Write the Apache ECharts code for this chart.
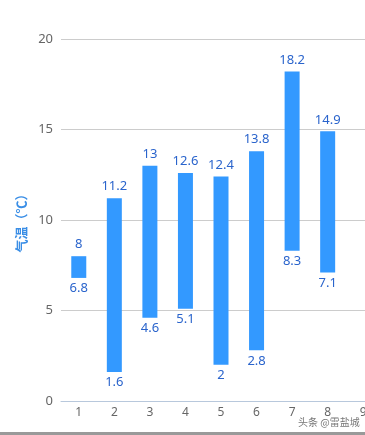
<!DOCTYPE html>
<html><head><meta charset="utf-8">
<script src="https://cdn.jsdelivr.net/npm/echarts@6/dist/echarts.min.js"></script>
<style>html,body{margin:0;padding:0;background:#fff;overflow:hidden}#c{width:385px;height:435px}</style>
</head><body><div id="c"></div>
<script>
var categories = ['1','2','3','4','5','6','7','8','9'];
var lowValues = [6.8, 1.6, 4.6, 5.1, 2, 2.8, 8.3, 7.1, null];
var highValues = [8, 11.2, 13, 12.6, 12.4, 13.8, 18.2, 14.9, null];
var yTicks = [0, 5, 10, 15, 20];

var spans = highValues.map(function(h, i){ return h == null ? null : +(h - lowValues[i]).toFixed(2); });
var labelColor = '#2a64cc';
var chart = echarts.init(document.getElementById('c'));
chart.setOption({
  animation: false,
  grid: {left: 61, right: 4, top: 39, bottom: 34},
  xAxis: {
    type: 'category', data: categories,
    axisLine: {lineStyle: {color: '#b8c8dc'}},
    axisTick: {lineStyle: {color: '#b8c8dc'}},
    axisLabel: {color: '#666', fontSize: 12, fontFamily: 'Noto Sans', margin: 6}
  },
  yAxis: {
    type: 'value', min: yTicks[0], max: yTicks[yTicks.length-1], interval: 5,
    name: '气温（℃）', nameLocation: 'middle', nameGap: 29,
    nameTextStyle: {color: '#3a8ee6', fontSize: 13, fontWeight: 'bold', fontFamily: 'Noto Sans CJK SC'},
    axisLine: {show: false}, axisTick: {show: false},
    axisLabel: {color: '#666', fontSize: 13, fontFamily: 'Noto Sans', margin: 8},
    splitLine: {lineStyle: {color: '#ccc'}}
  },
  series: [
    {
      type: 'bar', stack: 't', data: lowValues, barWidth: 15,
      itemStyle: {color: 'transparent'},
      label: {show: true, position: 'insideTop', distance: 4, color: labelColor, fontSize: 13, fontFamily: 'Noto Sans',
        formatter: function(p){ return lowValues[p.dataIndex]; }}
    },
    {
      type: 'bar', stack: 't', data: spans, barWidth: 15,
      itemStyle: {color: '#3399ff'},
      label: {show: true, position: 'top', distance: 5, color: labelColor, fontSize: 13, fontFamily: 'Noto Sans',
        formatter: function(p){ return highValues[p.dataIndex]; }}
    }
  ],
  graphic: [
    {type: 'text', left: 298, top: 417, style: {text: '头条 @雷盐城', fill: '#777', font: '10px "Noto Sans CJK SC"'}},
    {type: 'rect', left: 0, top: 432, shape: {width: 385, height: 3}, style: {fill: '#999'}}
  ]
});
</script></body></html>
